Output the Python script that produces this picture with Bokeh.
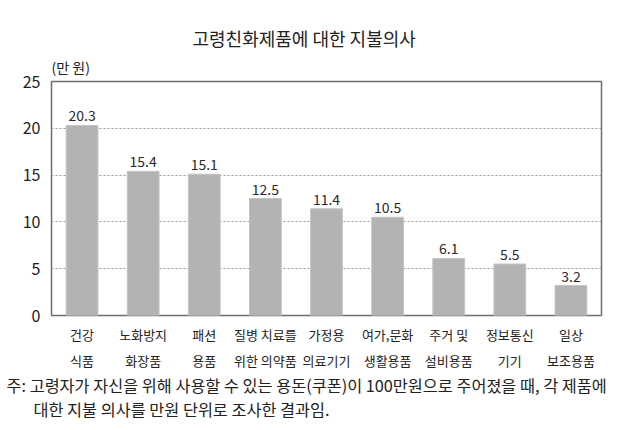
from bokeh.plotting import figure
from bokeh.models import ColumnDataSource, FactorRange, Range1d, FixedTicker, Title
from bokeh.core.properties import value
from bokeh.embed import file_html
from bokeh.resources import INLINE

title_text = "고령친화제품에 대한 지불의사"
unit_text = "(만 원)"
categories = ["건강\n식품", "노화방지\n화장품", "패션\n용품", "질병 치료를\n위한 의약품", "가정용\n의료기기",
              "여가,문화\n생활용품", "주거 및\n설비용품", "정보통신\n기기", "일상\n보조용품"]
values = [20.3, 15.4, 15.1, 12.5, 11.4, 10.5, 6.1, 5.5, 3.2]
value_labels = ["20.3", "15.4", "15.1", "12.5", "11.4", "10.5", "6.1", "5.5", "3.2"]
y_ticks = [0, 5, 10, 15, 20, 25]
note_lines = ["주: 고령자가 자신을 위해 사용할 수 있는 용돈(쿠폰)이 100만원으로 주어졌을 때, 각 제품에",
              "대한 지불 의사를 만원 단위로 조사한 결과임."]

KFONT = "Noto Sans CJK KR"
TXT = "#222222"
W, H = 630, 422
BL, BR, BT, BB = 51, 29, 81, 106
YMAX = 25

src = ColumnDataSource(dict(cat=categories, val=values, lab=value_labels))

p = figure(width=W, height=H, x_range=FactorRange(*categories), y_range=Range1d(0, YMAX),
           output_backend="svg", toolbar_location=None,
           min_border_left=BL, min_border_right=BR, min_border_top=BT, min_border_bottom=BB)
p.background_fill_color = "white"
p.border_fill_color = "white"
p.outline_line_color = "#6e6e6e"
p.outline_line_width = 1.5

p.vbar(x="cat", top="val", width=0.52, source=src, fill_color="#b3b3b3", line_color="#c4c4c4", line_width=1)
p.text(x="cat", y="val", text="lab", source=src, text_align="center", text_baseline="bottom",
       y_offset=-4, text_font=value(KFONT), text_font_size="14px", text_color="#2a2a2a")

p.xgrid.grid_line_color = None
p.ygrid.grid_line_color = "#9a9a9a"
p.ygrid.grid_line_dash = "2 2"
p.ygrid.grid_line_width = 1
p.ygrid.ticker = FixedTicker(ticks=[5, 10, 15, 20])

p.yaxis.ticker = FixedTicker(ticks=y_ticks)
p.yaxis.axis_line_color = None
p.yaxis.major_tick_line_color = None
p.yaxis.major_tick_out = 0
p.yaxis.major_tick_in = 0
p.yaxis.minor_tick_line_color = None
p.yaxis.major_label_standoff = 11
p.yaxis.major_label_text_font = KFONT
p.yaxis.major_label_text_font_size = "16px"
p.yaxis.major_label_text_color = TXT

p.xaxis.axis_line_color = None
p.xaxis.major_tick_line_color = None
p.xaxis.major_tick_out = 0
p.xaxis.major_tick_in = 0
p.xaxis.minor_tick_line_color = None
p.xaxis.major_label_standoff = 9
p.xaxis.major_label_text_font = KFONT
p.xaxis.major_label_text_font_size = "13px"
p.xaxis.major_label_text_line_height = 1.42
p.xaxis.major_label_text_color = TXT

# texts above the frame (first added sits nearest the frame)
p.add_layout(Title(text=unit_text, align="left", offset=0, standoff=9,
                   text_font=KFONT, text_font_size="14px", text_font_style="normal", text_color=TXT), "above")
p.add_layout(Title(text=title_text, align="left", offset=141, standoff=0,
                   text_font=KFONT, text_font_size="18px", text_font_style="normal", text_color=TXT), "above")

# footnote below the axis
p.add_layout(Title(text=note_lines[0], align="left", offset=-45, standoff=-6,
                   text_font=KFONT, text_font_size="16.3px", text_font_style="normal", text_color=TXT), "below")
p.add_layout(Title(text=note_lines[1], align="left", offset=-18, standoff=3,
                   text_font=KFONT, text_font_size="16.3px", text_font_style="normal", text_color=TXT), "below")

open("out.html", "w").write(file_html(p, INLINE))
